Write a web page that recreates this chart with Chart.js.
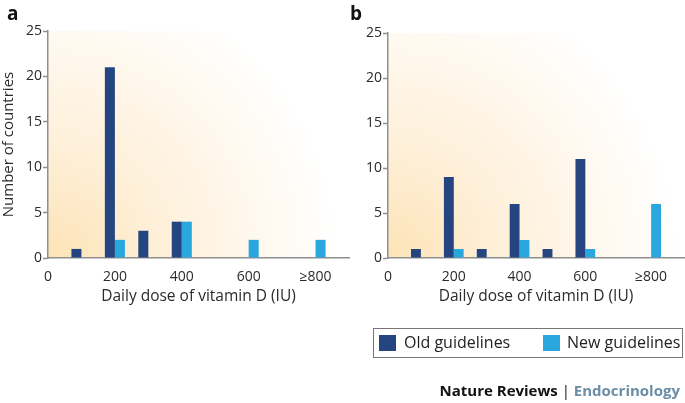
<!DOCTYPE html>
<html>
<head>
<meta charset="utf-8">
<script src="https://cdn.jsdelivr.net/npm/chart.js@4.4.1/dist/chart.umd.min.js"></script>
<style>
  body { margin: 0; width: 685px; height: 403px; background: #fff; position: relative; overflow: hidden; font-family: "Open Sans", sans-serif; }
  .panel { position: absolute; top: 0; height: 310px; }
  #pa { left: 0; width: 350px; }
  #pb { left: 340px; width: 345px; }
  .letter { position: absolute; top: 0; font-weight: bold; font-size: 19px; color: #111; }
  .legend { position: absolute; left: 373px; top: 328px; width: 308px; height: 28px; border: 1px solid #777; font-size: 16px; color: #222; }
  .legend span.sw { position: absolute; top: 6px; width: 17px; height: 16px; }
  .legend span.tx { position: absolute; top: 2px; }
  .footer { position: absolute; right: 5px; top: 380px; font-size: 15px; font-weight: bold; color: #111; }
</style>
</head>
<body>
<div class="panel" id="pa"><canvas id="chartA"></canvas></div>
<div class="panel" id="pb"><canvas id="chartB"></canvas></div>
<div class="letter" style="left:7px">a</div>
<div class="letter" style="left:350px">b</div>
<div class="legend">
  <span class="sw" style="left:5px;background:#24457f"></span><span class="tx" style="left:30px">Old guidelines</span>
  <span class="sw" style="left:169px;background:#2aa7dc"></span><span class="tx" style="left:193px">New guidelines</span>
</div>
<div class="footer">Nature Reviews <span style="font-weight:normal">|</span> <span style="color:#6b8ea6">Endocrinology</span></div>
<script>
const doses = [100, 200, 300, 400, 500, 600, 700, 800];
const yTicks = [0, 5, 10, 15, 20, 25];
const xTickLabels = ['0', '200', '400', '600', '≥800'];

// panel a
const oldA = [1, 21, 3, 4, null, null, null, null];
const newA = [null, 2, null, 4, null, 2, null, 2];
// panel b
const oldB = [1, 9, 1, 6, 1, 11, null, null];
const newB = [null, 1, null, 2, null, 1, null, 6];

const oldColor = '#24457f';
const newColor = '#2aa7dc';
const axisColor = '#8f8f8f';
const textColor = '#2b2b2b';
const fontFamily = '"Open Sans", sans-serif';

const glow = {
    id: 'glow',
    beforeDraw(chart) {
        const { ctx, chartArea: a } = chart;
        const g = ctx.createRadialGradient(a.left, a.bottom, 0, a.left, a.bottom, 290);
        g.addColorStop(0, '#fde3b6');
        g.addColorStop(0.4, '#fef0da');
        g.addColorStop(1, 'rgba(255,255,255,1)');
        ctx.save();
        ctx.fillStyle = g;
        ctx.fillRect(a.left, a.top, a.right - a.left, a.bottom - a.top);
        ctx.restore();
    }
};

function makeChart(id, oldVals, newVals, showYTitle, topPad) {
    const ctx = document.getElementById(id).getContext('2d');
    return new Chart(ctx, {
        type: 'bar',
        data: {
            datasets: [{
                label: 'Old guidelines',
                data: doses.map((d, i) => ({ x: d, y: oldVals[i] })),
                backgroundColor: oldColor,
                categoryPercentage: 0.6,
                barPercentage: 1
            }, {
                label: 'New guidelines',
                data: doses.map((d, i) => ({ x: d, y: newVals[i] })),
                backgroundColor: newColor,
                categoryPercentage: 0.6,
                barPercentage: 1
            }]
        },
        options: {
            responsive: true,
            maintainAspectRatio: false,
            animation: false,
            layout: { padding: { top: topPad, right: 1, left: 0, bottom: 0 } },
            scales: {
                x: {
                    type: 'linear',
                    offset: false,
                    min: 0,
                    max: 900,
                    afterFit: s => { s.height = 310 - 258; },
                    border: { color: axisColor, width: 1.5 },
                    grid: { display: false },
                    ticks: {
                        stepSize: 200,
                        includeBounds: false,
                        autoSkip: false,
                        maxRotation: 0,
                        padding: 3,
                        color: textColor,
                        font: { family: fontFamily, size: 14 },
                        callback: v => xTickLabels[v / 200]
                    },
                    title: {
                        display: true,
                        text: 'Daily dose of vitamin D (IU)',
                        color: textColor,
                        font: { family: fontFamily, size: 15.5 },
                        padding: { top: 3 }
                    }
                },
                y: {
                    min: 0,
                    max: 25,
                    afterFit: s => { s.width = 48; },
                    afterBuildTicks: s => { s.ticks = yTicks.map(v => ({ value: v })); },
                    border: { color: axisColor, width: 1.5 },
                    grid: { drawOnChartArea: false, tickLength: 5, color: axisColor, tickWidth: 1.5 },
                    ticks: {
                        padding: 1,
                        color: textColor,
                        font: { family: fontFamily, size: 14 }
                    },
                    title: {
                        display: showYTitle,
                        text: 'Number of countries',
                        color: textColor,
                        font: { family: fontFamily, size: 15 },
                        padding: 0
                    }
                }
            },
            plugins: {
                legend: { display: false },
                tooltip: { enabled: false }
            }
        },
        plugins: [glow]
    });
}

makeChart('chartA', oldA, newA, true, 31);
makeChart('chartB', oldB, newB, false, 33);
</script>
</body>
</html>
